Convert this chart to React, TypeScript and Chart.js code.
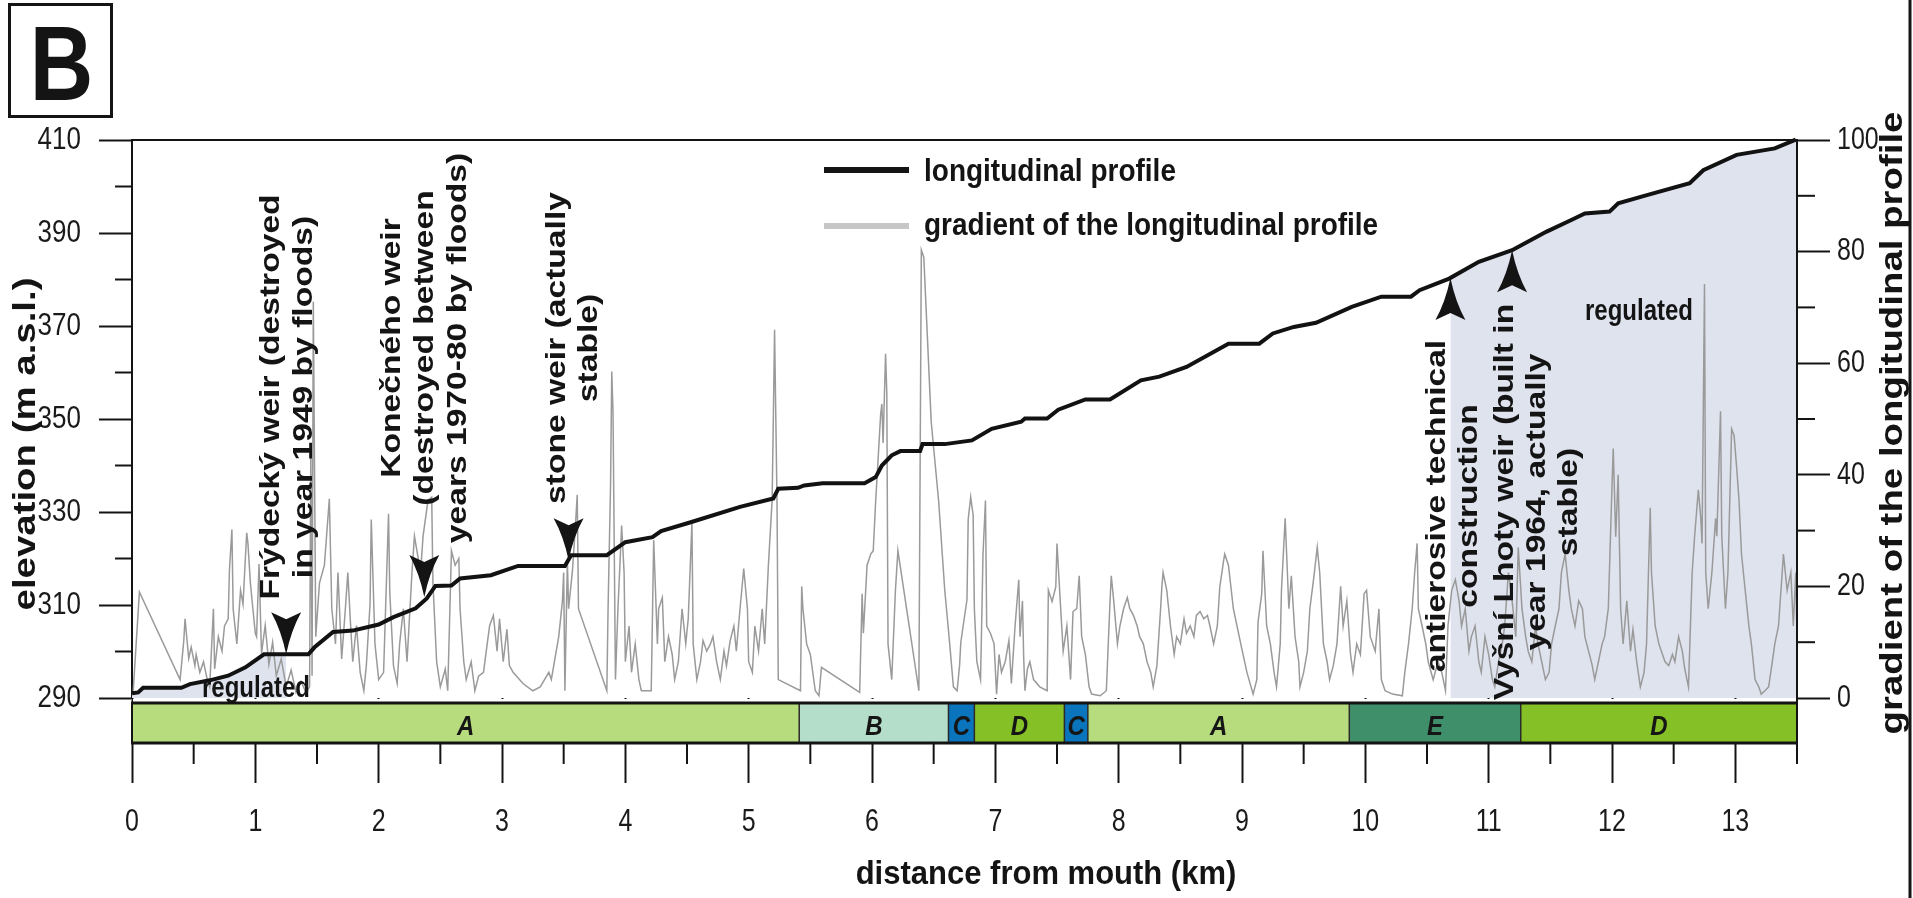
import React, { useEffect, useRef } from 'react';
import { Chart, registerables } from 'chart.js';

Chart.register(...registerables);

// Longitudinal profile of the channel: distance from mouth (km) / elevation (m a.s.l.)
const profileKm = [0, 0.05, 0.09, 0.4, 0.47, 0.63, 0.78, 0.92, 1.07, 1.43, 1.48, 1.63, 1.79, 2.0, 2.12, 2.3, 2.39, 2.46, 2.59, 2.66, 2.91, 3.13, 3.51, 3.56, 3.85, 4.0, 4.22, 4.29, 4.53, 4.93, 5.2, 5.24, 5.4, 5.45, 5.6, 5.94, 6.03, 6.08, 6.16, 6.23, 6.39, 6.41, 6.59, 6.81, 6.97, 7.21, 7.24, 7.42, 7.51, 7.73, 7.93, 8.18, 8.33, 8.55, 8.89, 9.14, 9.25, 9.42, 9.6, 9.89, 10.13, 10.37, 10.44, 10.68, 10.92, 11.19, 11.47, 11.67, 11.78, 11.98, 12.05, 12.29, 12.63, 12.74, 13.01, 13.32, 13.49];
const profileElev = [291.0, 291.2, 292.2, 292.2, 293.0, 293.8, 294.8, 296.6, 299.4, 299.4, 300.9, 304.2, 304.5, 305.8, 307.4, 309.3, 311.4, 314.1, 314.2, 315.7, 316.4, 318.4, 318.4, 320.7, 320.7, 323.5, 324.6, 325.9, 327.8, 331.1, 332.9, 335.0, 335.2, 335.7, 336.2, 336.2, 337.5, 340.0, 342.2, 343.1, 343.1, 344.6, 344.6, 345.4, 347.9, 349.4, 350.1, 350.1, 352.0, 354.2, 354.2, 358.3, 359.1, 361.2, 366.2, 366.2, 368.4, 369.8, 370.7, 374.1, 376.3, 376.3, 377.7, 380.2, 383.8, 386.3, 390.3, 392.8, 394.2, 394.6, 396.4, 398.2, 400.7, 403.5, 406.8, 408.2, 410.1];

// Gradient of the longitudinal profile: distance (km) / gradient value
const gradientKm = [
  0.01, 0.06, 0.39, 0.42, 0.43, 0.46, 0.48, 0.51, 0.52, 0.55,
  0.58, 0.61, 0.63, 0.66, 0.67, 0.7, 0.73, 0.75, 0.78, 0.79,
  0.81, 0.82, 0.85, 0.88, 0.9, 0.93, 0.94, 0.96, 0.98, 1.0,
  1.01, 1.03, 1.05, 1.08, 1.11, 1.14, 1.17, 1.21, 1.25, 1.29,
  1.33, 1.37, 1.41, 1.44, 1.45, 1.46, 1.47, 1.49,
  1.52, 1.56, 1.6, 1.62, 1.65, 1.67, 1.7, 1.73, 1.75, 1.77,
  1.79, 1.82, 1.85, 1.88, 1.9, 1.93, 1.94, 1.97, 2.0, 2.04,
  2.08, 2.09, 2.12, 2.15, 2.17, 2.2, 2.23, 2.27, 2.29, 2.34,
  2.36, 2.4, 2.43, 2.44, 2.47, 2.5, 2.54, 2.56, 2.59, 2.62,
  2.65, 2.66, 2.69, 2.71, 2.75, 2.78, 2.81, 2.85, 2.88, 2.9,
  2.93, 2.96, 2.98, 3.01, 3.04, 3.06, 3.09, 3.17, 3.25, 3.31,
  3.38,
  3.4, 3.46, 3.49, 3.5, 3.51, 3.53, 3.54, 3.57, 3.59, 3.61,
  3.62, 3.85, 3.86, 3.88, 3.89, 3.9, 3.92, 3.94, 3.96, 3.97,
  3.99, 4.0, 4.03, 4.05, 4.08, 4.11, 4.13, 4.21, 4.23, 4.26,
  4.27, 4.3, 4.32, 4.35, 4.38, 4.4, 4.43, 4.46, 4.49, 4.51,
  4.54, 4.55, 4.58, 4.61, 4.63, 4.66, 4.69, 4.71, 4.74, 4.77,
  4.8, 4.82, 4.85, 4.88, 4.9, 4.93, 4.96, 4.99, 5.0, 5.03,
  5.05, 5.08, 5.11, 5.13, 5.16, 5.19, 5.2, 5.21, 5.23, 5.24,
  5.42, 5.43, 5.44, 5.47, 5.5, 5.54, 5.57, 5.59, 5.9, 5.92,
  5.93, 5.96, 5.99, 6.01, 6.03, 6.05, 6.07, 6.08, 6.09, 6.11,
  6.12, 6.13, 6.16, 6.19, 6.21, 6.38, 6.4, 6.42, 6.48, 6.54,
  6.59, 6.63, 6.66, 6.69, 6.71,
  6.72, 6.77, 6.78, 6.8, 6.82, 6.83, 6.85, 6.88, 6.89, 6.9,
  6.92, 6.93, 6.96, 6.99, 7.01, 7.03, 7.05, 7.08, 7.11, 7.13,
  7.16, 7.19, 7.2, 7.22, 7.23, 7.24, 7.26, 7.28, 7.31, 7.36,
  7.42, 7.43, 7.46, 7.49, 7.5, 7.53, 7.55, 7.58, 7.61, 7.63,
  7.66, 7.68, 7.7, 7.73, 7.76, 7.78, 7.85, 7.9, 7.93, 7.94,
  7.96, 7.99, 8.01, 8.04, 8.07, 8.09, 8.12, 8.15, 8.17, 8.2,
  8.23, 8.26, 8.28, 8.31, 8.34, 8.35, 8.36, 8.39, 8.42, 8.45,
  8.47, 8.5, 8.53, 8.55, 8.58, 8.61, 8.63, 8.66, 8.69, 8.72,
  8.74, 8.77, 8.8, 8.82, 8.85, 8.86, 8.89, 8.93, 8.99, 9.04,
  9.09, 9.12, 9.13, 9.16, 9.17, 9.2, 9.23, 9.26, 9.28, 9.31,
  9.32, 9.35, 9.38, 9.4, 9.43, 9.46, 9.47, 9.5, 9.53, 9.55,
  9.58, 9.61, 9.63, 9.66, 9.69, 9.71, 9.74, 9.77, 9.8, 9.82,
  9.85, 9.88, 9.9, 9.93, 9.96, 9.99, 10.01, 10.04,
  10.08, 10.11, 10.13, 10.16, 10.22, 10.3, 10.32, 10.35, 10.38, 10.4,
  10.42, 10.43, 10.46, 10.49, 10.51, 10.55, 10.59, 10.62, 10.65, 10.67,
  10.7, 10.73, 10.76, 10.78, 10.81, 10.84, 10.86, 10.89, 10.92, 10.94,
  10.97, 11.0, 11.03, 11.05, 11.08, 11.11, 11.13, 11.16, 11.19, 11.22,
  11.24, 11.27, 11.3, 11.32, 11.35, 11.38, 11.4, 11.43, 11.46, 11.49,
  11.51, 11.54, 11.57, 11.59, 11.62, 11.65, 11.67, 11.7, 11.73, 11.76,
  11.78, 11.81, 11.84, 11.86, 11.89, 11.92, 11.94, 11.97, 12.0, 12.01,
  12.03, 12.05, 12.07, 12.09, 12.12, 12.15, 12.17, 12.2, 12.23, 12.26,
  12.28, 12.31, 12.32, 12.35, 12.38, 12.4, 12.43, 12.46, 12.49, 12.51,
  12.54, 12.57, 12.59, 12.62, 12.65, 12.67, 12.7, 12.72, 12.73, 12.75,
  12.76, 12.78, 12.81, 12.84, 12.85, 12.88, 12.89, 12.92, 12.94, 12.97,
  12.99, 13.01, 13.03, 13.05, 13.08, 13.11, 13.13, 13.16, 13.19, 13.21,
  13.24, 13.27, 13.3, 13.32, 13.35, 13.38, 13.39, 13.42, 13.45, 13.47,
  13.49, 13.5,
];
const gradientValue = [
  1.3, 19, 3.3, 10.3, 14.2, 7.1, 9.1, 5.8, 7.8, 4.6,
  6.5, 3.3, 2, 16, 5.2, 11, 8.4, 12.9, 14.2, 22.9,
  30.2, 16, 9.7, 19.3, 16.8, 29.6, 27.7, 20.6, 16, 11.6,
  11, 24, 8, 13, 6, 10, 4, 7, 2, 5,
  1, 3, 1, 2, 45, 4, 71, 11,
  20.6, 23.8, 35.7, 16, 9.7, 22.5, 7, 16, 22.5, 14,
  6.5, 13, 4.6, 1.3, 5.8, 16.8, 32, 9.7, 3.3, 4.6,
  33, 19, 5.8, 2.6, 9.7, 16, 6.5, 22.5, 29, 22.5,
  29, 35.4, 36, 20.6, 6.5, 2, 5.2, 1.3, 26.4, 23.8,
  25, 16, 6.5, 3.3, 6.5, 1.3, 3.9, 4.6, 9.7, 13,
  14.8, 8.4, 14.2, 6.5, 12.3, 5.8, 4.6, 2.6, 1.3, 2,
  4.6,
  3.3, 11, 17.4, 22.5, 1.3, 24.5, 16, 22.5, 29, 36.4,
  16, 1.3, 16, 38, 58.5, 51.4, 3.3, 16, 25.8, 30.9,
  22.5, 6.5, 12.9, 4.6, 9.7, 3.3, 1.3, 1.3, 28.3, 9.7,
  16, 18, 6.5, 11, 7.8, 3.3, 6.5, 16, 9.7, 14.2,
  31.5, 9.7, 3.3, 6.5, 10.3, 8.4, 9.7, 11, 6.5, 3.3,
  8.4, 5.8, 10.3, 12.9, 8.4, 16, 23.2, 16, 6.5, 4.6,
  12.9, 8.4, 16, 9.7, 23.8, 35.4, 50, 66, 35, 3.3,
  1.3, 20, 16, 9.7, 7.8, 1.3, 0.4, 5.5, 1, 18.7,
  11.6, 23.8, 25.8, 26.4, 35.4, 43, 50.8, 52.7, 45.7, 61.7,
  54.7, 9.7, 3.3, 19.3, 26.4, 1.3, 80.3, 79, 49.5, 35.4,
  19.3, 9.7, 2, 1.3, 5.8,
  10, 17.6, 32, 36, 32.8, 16, 6.5, 3.3, 14.2, 25.8,
  35.4, 12.9, 11.6, 9.7, 0.7, 7.8, 4.6, 6.5, 10.3, 2.6,
  12.9, 21.2, 11, 17.4, 7.1, 1.3, 5.2, 6.5, 3.3, 2,
  1.3, 19.3, 17.3, 19.9, 27.7, 16, 8.4, 12.9, 3.3, 15.5,
  16, 21.9, 11, 7.8, 2, 0.7, 0.4, 1.3, 17.4, 21.9,
  17.4, 9.7, 12.9, 16, 18, 16, 14.8, 12.9, 11, 9.7,
  6.5, 4.6, 2, 5.8, 16, 19.9, 22.5, 19.3, 12.9, 7.8,
  11, 9.7, 14.2, 11.6, 12.9, 11, 14.8, 15.5, 14.2, 14.8,
  12.9, 9.7, 12.9, 19.9, 24.5, 25.8, 23.8, 16, 9.7, 4.6,
  0.7, 3.3, 13.6, 18.7, 26.4, 12.9, 9.7, 4.6, 2, 9.7,
  19.3, 32.2, 16, 21.9, 11, 6.5, 2, 4.6, 8.4, 16,
  21.2, 27, 22.5, 9.7, 6.5, 3.3, 5.8, 9.7, 20, 12.9,
  17.4, 7.8, 4.6, 9.7, 7.8, 18.7, 19.3, 11,
  8.4, 16, 3.3, 1.3, 0.7, 0.4, 4.6, 9.7, 16, 22.5,
  27.7, 16, 12.9, 9.7, 6.5, 3.3, 6.5, 4.6, 1.3, 12.9,
  19.3, 21.2, 17.4, 12.9, 16, 8.4, 11, 12.9, 6.5, 4.6,
  11, 7.8, 3.3, 2, 6.5, 9.7, 12.9, 22.5, 17.4, 11,
  27, 16, 11, 8.4, 6.5, 12.9, 9.7, 6.5, 3.3, 4.6,
  9.7, 12.9, 16, 22.5, 25.8, 19.3, 16, 12.9, 17.4, 16,
  11, 8.4, 5.8, 3.3, 6.5, 9.7, 11, 16, 38, 44.7,
  28.9, 40, 16, 9.7, 17.4, 8.4, 12.3, 6.5, 2, 4.6,
  9.7, 34.1, 22.5, 12.9, 9.7, 8.4, 6.5, 5.8, 7.8, 6.5,
  11, 8.4, 5.2, 2, 22.5, 29, 37.3, 32.2, 27.7, 74.2,
  22.5, 16, 22.5, 32.2, 29, 51.4, 29, 16, 22.5, 48.2,
  47, 41.5, 35.4, 25.8, 19.3, 12.9, 9.7, 3.3, 2, 0.7,
  1.3, 2, 6.5, 9.7, 12.9, 22.5, 25.8, 19.3, 22.5, 12.9,
  22.5, 11,
];

// Channel reach types along the stream
const reachLabels = ['A', 'B', 'C', 'D', 'C', 'A', 'E', 'D'];
const reachStartKm = [0, 5.41, 6.62, 6.83, 7.56, 7.75, 9.87, 11.26];
const reachEndKm = [5.41, 6.62, 6.83, 7.56, 7.75, 9.87, 11.26, 13.5];
const reachColors: Record<string, string> = { A: '#b7dc7d', B: '#b5deca', C: '#0a74bc', D: '#86c027', E: '#408f6b' };

// Regulated stretches (km)
const regulatedFromKm = [0, 10.69];
const regulatedToKm = [1.25, 13.5];

// Weirs and technical structures: arrow tip on the profile
const structureKm = [1.25, 2.37, 3.54, 10.69, 11.19];
const structureElev = [299.4, 311.7, 319.6, 380.3, 386.3];
const structureLines = [
  ['Frýdecký weir (destroyed', 'in year 1949 by floods)'],
  ['Konečného weir', '(destroyed between', 'years 1970-80 by floods)'],
  ['stone weir (actually', 'stable)'],
  ['antierosive technical', 'construction'],
  ['Vyšní Lhoty weir (built in', 'year 1964, actually', 'stable)'],
];

// Axis ranges and tick steps
const distanceRange = [0, 13.5];
const elevationRange = [290, 410];
const gradientRange = [0, 100];
const distanceStep = 1;
const elevationStep = 20;
const gradientStep = 20;

const SANS = '"Liberation Sans", Arial, Helvetica, sans-serif';
const INK = '#141414';

function profileAt(km: number): number {
  for (let i = 1; i < profileKm.length; i++) {
    if (km <= profileKm[i]) {
      const t = (km - profileKm[i - 1]) / (profileKm[i] - profileKm[i - 1]);
      return profileElev[i - 1] + t * (profileElev[i] - profileElev[i - 1]);
    }
  }
  return profileElev[profileElev.length - 1];
}

function regulatedSegment(from: number, to: number) {
  const pts = [{ x: from, y: profileAt(from) }];
  profileKm.forEach((k, i) => {
    if (k > from && k < to) pts.push({ x: k, y: profileElev[i] });
  });
  pts.push({ x: to, y: profileAt(to) });
  return pts;
}

type TextOpts = {
  size: number;
  weight?: string;
  style?: string;
  family?: string;
  stretch?: number;
  rotate?: boolean;
  align?: CanvasTextAlign;
  baseline?: CanvasTextBaseline;
  color?: string;
};

function drawText(ctx: CanvasRenderingContext2D, str: string, x: number, y: number, o: TextOpts) {
  ctx.save();
  ctx.translate(x, y);
  ctx.scale(1, o.stretch ?? 1);
  if (o.rotate) ctx.rotate(-Math.PI / 2);
  ctx.font = `${o.style ?? 'normal'} ${o.weight ?? 'bold'} ${o.size}px ${o.family ?? SANS}`;
  ctx.textAlign = o.align ?? 'left';
  ctx.textBaseline = o.baseline ?? 'alphabetic';
  ctx.fillStyle = o.color ?? INK;
  ctx.fillText(str, 0, 0);
  ctx.restore();
}

function line(ctx: CanvasRenderingContext2D, x1: number, y1: number, x2: number, y2: number, w: number, c = INK) {
  ctx.beginPath();
  ctx.lineWidth = w;
  ctx.strokeStyle = c;
  ctx.moveTo(x1, y1);
  ctx.lineTo(x2, y2);
  ctx.stroke();
}

function drawArrow(ctx: CanvasRenderingContext2D, tipX: number, tipY: number, dir: number) {
  // dir = 1 points down, dir = -1 points up
  const w = 15;
  const h = 42;
  const notch = 7;
  const baseY = tipY - dir * h;
  ctx.beginPath();
  ctx.moveTo(tipX, tipY);
  ctx.quadraticCurveTo(tipX - 5, tipY - dir * 24, tipX - w, baseY);
  ctx.lineTo(tipX, baseY + dir * notch);
  ctx.lineTo(tipX + w, baseY);
  ctx.quadraticCurveTo(tipX + 5, tipY - dir * 24, tipX, tipY);
  ctx.closePath();
  ctx.fillStyle = INK;
  ctx.fill();
}

// Positions of the rotated labels for each structure (first line x, line gap, vertical centre)
const labelFirstX = [271, 392, 557, 1437, 1505];
const labelGap = [33, 33, 32, 32, 32];
const labelCenterY = [397, 348, 348, 506, 502];

const decorations = {
  id: 'decorations',
  afterDraw(chart: any) {
    const ctx: CanvasRenderingContext2D = chart.ctx;
    const xs = chart.scales.x;
    const ye = chart.scales.yElev;
    const yg = chart.scales.yGrad;
    const area = chart.chartArea;
    const left = area.left;
    const right = area.right;
    const bandTop = 703;
    const bandBottom = 743;

    ctx.save();

    // gap between plot and reach band
    ctx.fillStyle = '#ffffff';
    ctx.fillRect(left + 1, area.bottom + 1, right - left - 1, bandTop - area.bottom - 1);

    // reach band
    reachLabels.forEach((lab, i) => {
      const x0 = xs.getPixelForValue(reachStartKm[i]);
      const x1 = xs.getPixelForValue(reachEndKm[i]);
      ctx.fillStyle = reachColors[lab];
      ctx.fillRect(x0, bandTop, x1 - x0, bandBottom - bandTop);
    });
    reachStartKm.forEach((k, i) => {
      if (i === 0) return;
      const px = xs.getPixelForValue(k);
      line(ctx, px, bandTop, px, bandBottom, 1.5, '#2a2a2a');
    });
    reachLabels.forEach((lab, i) => {
      const cx = (xs.getPixelForValue(reachStartKm[i]) + xs.getPixelForValue(reachEndKm[i])) / 2;
      drawText(ctx, lab, cx, 735, { size: 24, style: 'italic', stretch: 1.15, align: 'center', color: '#151515' });
    });
    line(ctx, left - 1, bandTop, right + 1, bandTop, 3);
    line(ctx, left - 1, bandBottom, right + 1, bandBottom, 3);
    line(ctx, left, bandTop, left, bandBottom, 2);
    line(ctx, right, area.top, right, bandBottom, 2);

    // minor ticks
    for (let k = distanceRange[0] + distanceStep / 2; k <= distanceRange[1] + 1e-9; k += distanceStep) {
      const px = xs.getPixelForValue(k);
      line(ctx, px, bandBottom, px, 764, 2);
    }
    for (let v = elevationRange[0] + elevationStep / 2; v < elevationRange[1]; v += elevationStep) {
      const py = ye.getPixelForValue(v);
      line(ctx, left - 17, py, left, py, 2);
    }
    for (let v = gradientRange[0] + gradientStep / 2; v < gradientRange[1]; v += gradientStep) {
      const py = yg.getPixelForValue(v);
      line(ctx, right, py, right + 18, py, 2);
    }

    // tick labels in a condensed face, taken from the scales' own ticks
    xs.ticks.forEach((t: any) => {
      drawText(ctx, String(t.value), xs.getPixelForValue(t.value), 822, {
        size: 25, weight: 'normal', stretch: 1.25, align: 'center', baseline: 'middle', color: '#1a1a1a',
      });
    });
    ye.ticks.forEach((t: any) => {
      drawText(ctx, String(t.value), 81, ye.getPixelForValue(t.value), {
        size: 26, weight: 'normal', stretch: 1.24, align: 'right', baseline: 'middle', color: '#1a1a1a',
      });
    });
    yg.ticks.forEach((t: any) => {
      drawText(ctx, String(t.value), 1837, yg.getPixelForValue(t.value), {
        size: 25, weight: 'normal', stretch: 1.27, align: 'left', baseline: 'middle', color: '#1a1a1a',
      });
    });

    // upper frame of the plot
    line(ctx, left - 1, area.top, right + 1, area.top, 2);

    // structure arrows and labels
    structureKm.forEach((k, i) => {
      const tipX = xs.getPixelForValue(k);
      const tipY = ye.getPixelForValue(structureElev[i]);
      drawArrow(ctx, tipX, tipY, i < 3 ? 1 : -1);
      structureLines[i].forEach((txt, j) => {
        drawText(ctx, txt, labelFirstX[i] + j * labelGap[i], labelCenterY[i], {
          size: 28, stretch: 1.2, rotate: true, align: 'center', baseline: 'middle',
        });
      });
    });

    // regulated labels
    drawText(ctx, 'regulated', 202, 697, { size: 24, stretch: 1.2 });
    drawText(ctx, 'regulated', 1585, 320, { size: 24, stretch: 1.2 });

    // legend
    line(ctx, 824, 170, 909, 170, 6, '#141414');
    line(ctx, 824, 226, 909, 226, 6, '#c6c6c6');
    drawText(ctx, 'longitudinal profile', 924, 181, { size: 28, stretch: 1.15 });
    drawText(ctx, 'gradient of the longitudinal profile', 924, 235, { size: 28, stretch: 1.15 });

    // axis titles
    drawText(ctx, 'elevation (m a.s.l.)', 26, 444, { size: 32, stretch: 1.2, rotate: true, align: 'center', baseline: 'middle' });
    drawText(ctx, 'gradient of the longitudinal profile', 1893, 423, { size: 32, stretch: 1.2, rotate: true, align: 'center', baseline: 'middle' });
    drawText(ctx, 'distance from mouth (km)', 1046, 884, { size: 31, stretch: 1.05, align: 'center' });

    // panel letter
    ctx.lineWidth = 3;
    ctx.strokeStyle = INK;
    ctx.strokeRect(9.5, 4.5, 102, 112);
    drawText(ctx, 'B', 61.5, 100, { size: 88, stretch: 1.2, align: 'center' });

    // right edge of the figure frame
    line(ctx, 1910, 0, 1910, 898, 3);

    ctx.restore();
  },
};

export default function App() {
  const ref = useRef<HTMLCanvasElement>(null);

  useEffect(() => {
    document.body.style.margin = '0';
    const profilePts = profileKm.map((k, i) => ({ x: k, y: profileElev[i] }));
    const gradientPts = gradientKm.map((k, i) => ({ x: k, y: gradientValue[i] }));

    const chart = new Chart(ref.current as HTMLCanvasElement, {
      type: 'line',
      data: {
        datasets: [
          {
            label: 'longitudinal profile',
            data: profilePts,
            xAxisID: 'x',
            yAxisID: 'yElev',
            borderColor: '#121212',
            borderWidth: 4,
            pointRadius: 0,
            tension: 0,
            clip: 6,
            order: 0,
          },
          {
            label: 'gradient of the longitudinal profile',
            data: gradientPts,
            xAxisID: 'x',
            yAxisID: 'yGrad',
            borderColor: '#9a9a9a',
            borderWidth: 1.5,
            pointRadius: 0,
            tension: 0,
            order: 1,
          },
          ...regulatedFromKm.map((from, i) => ({
            label: 'regulated',
            data: regulatedSegment(from, regulatedToKm[i]),
            xAxisID: 'x',
            yAxisID: 'yElev',
            borderColor: 'rgba(0,0,0,0)',
            borderWidth: 0,
            backgroundColor: '#dfe3ee',
            fill: 'start',
            pointRadius: 0,
            tension: 0,
            order: 2 + i,
          })),
        ],
      } as any,
      options: {
        responsive: false,
        animation: false,
        events: [],
        layout: { padding: { top: 140, left: 0, right: 0, bottom: 0 } },
        plugins: { legend: { display: false }, tooltip: { enabled: false } },
        scales: {
          x: {
            type: 'linear',
            position: 'bottom',
            min: distanceRange[0],
            max: distanceRange[1],
            afterFit: (s: any) => { s.height = 200; },
            border: { display: false },
            grid: { drawOnChartArea: false, drawTicks: true, tickLength: 85, tickWidth: 2, tickColor: INK },
            ticks: { stepSize: distanceStep, includeBounds: false, display: false, autoSkip: false },
          },
          yElev: {
            type: 'linear',
            position: 'left',
            min: elevationRange[0],
            max: elevationRange[1],
            afterFit: (s: any) => { s.width = 132; },
            border: { display: true, width: 2, color: INK },
            grid: { drawOnChartArea: false, tickLength: 33, tickWidth: 2, tickColor: INK },
            ticks: { stepSize: elevationStep, display: false },
          },
          yGrad: {
            type: 'linear',
            position: 'right',
            min: gradientRange[0],
            max: gradientRange[1],
            afterFit: (s: any) => { s.width = 116; },
            border: { display: true, width: 2, color: INK },
            grid: { drawOnChartArea: false, tickLength: 33, tickWidth: 2, tickColor: INK },
            ticks: { stepSize: gradientStep, display: false },
          },
        },
      } as any,
      plugins: [decorations],
    });
    return () => chart.destroy();
  }, []);

  return <canvas ref={ref} width={1913} height={898} style={{ display: 'block', width: 1913, height: 898 }} />;
}
